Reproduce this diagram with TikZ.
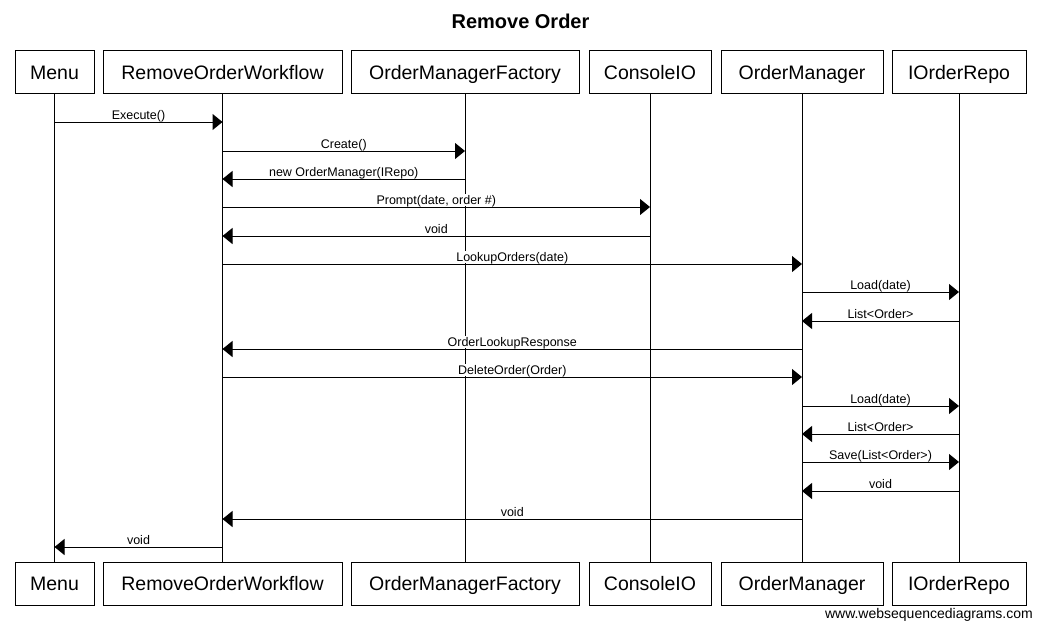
\documentclass[tikz,border=0pt]{standalone}
\usepackage{fontspec}
\setmainfont{Liberation Sans}
\usetikzlibrary{arrows.meta}

\begin{document}
\begin{tikzpicture}[x=1pt,y=-1pt,
    actor/.style={draw,line width=1pt,minimum height=43pt,inner sep=0pt,text height=14.5pt,text depth=0pt,font=\fontsize{19.5}{23}\selectfont},
    life/.style={line width=1pt},
    msg/.style={line width=1pt,-{Triangle[length=10pt,width=16pt]}},
    lbl/.style={above=0.5pt,fill=white,inner xsep=1pt,inner ysep=0.5pt,text depth=1.5pt,font=\fontsize{12.5}{15}\selectfont}]
  \useasboundingbox (0,0) rectangle (1041,629);
  \node[anchor=base,font=\bfseries\fontsize{20}{24}\selectfont] (title) at (520.5,28) {Remove Order};
  % participants with their lifelines
  \foreach \n/\x/\w/\t in {menu/54.5/79/Menu, wf/222.5/239/RemoveOrderWorkflow,
      fac/465/228/OrderManagerFactory, io/650/122/ConsoleIO,
      mgr/802/162/OrderManager, repo/959/134/IOrderRepo} {
    \node[actor,minimum width=\w pt] (\n) at (\x,72) {\t};
    \node[actor,minimum width=\w pt] (\n-b) at (\x,583.5) {\t};
    \draw[life] (\n) -- (\n-b);
  }
  % messages
  \foreach \a/\b/\y/\t in {menu/wf/122/{Execute()}, wf/fac/151/{Create()},
      fac/wf/179/{new OrderManager(IRepo)}, wf/io/207/{Prompt(date, order \#)},
      io/wf/236/{void}, wf/mgr/264/{LookupOrders(date)},
      mgr/repo/292/{Load(date)}, repo/mgr/321/{List<Order>},
      mgr/wf/349/{OrderLookupResponse}, wf/mgr/377/{DeleteOrder(Order)},
      mgr/repo/406/{Load(date)}, repo/mgr/434/{List<Order>},
      mgr/repo/462/{Save(List<Order>)}, repo/mgr/491/{void},
      mgr/wf/519/{void}, wf/menu/547/{void}}
    \draw[msg] (\a |- 0,\y) -- node[lbl] {\t} (\b |- 0,\y);
  \node[anchor=base east,inner sep=0pt,font=\fontsize{14}{17}\selectfont] (site) at (1033,618) {www.websequencediagrams.com};
\end{tikzpicture}
\end{document}
